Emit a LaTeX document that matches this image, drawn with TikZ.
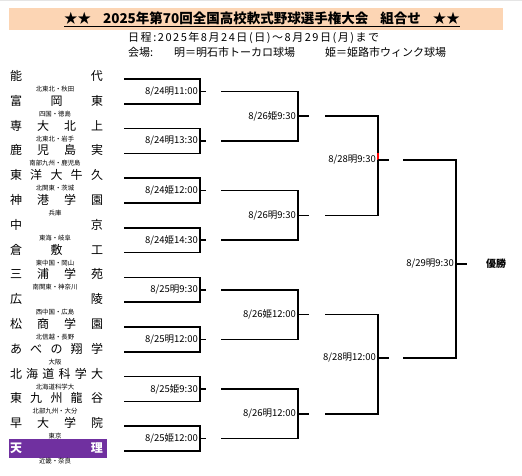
\documentclass[tikz,border=0pt]{standalone}
\usepackage{fontspec}
\setmainfont{Noto Sans CJK JP}
\usepackage{xcolor}
\usetikzlibrary{positioning}
\definecolor{peach}{HTML}{FCD5B4}
\definecolor{tenri}{HTML}{7030A0}

\begin{document}
\begin{tikzpicture}[x=1pt, y=-1pt,
    bline/.style={line width=1.6pt},
    team/.style={inner sep=0pt, font=\fontsize{12}{12}\selectfont},
    area/.style={inner sep=0pt, font=\fontsize{6.4}{6.4}\selectfont},
    game/.style={inner sep=0pt, anchor=east, font=\fontsize{9.5}{9.5}\selectfont},
    info/.style={inner sep=0pt, anchor=west, font=\fontsize{11}{11}\selectfont}]
        \useasboundingbox (0,0) rectangle (522,476);

        % Header
        \fill[gray!20] (0,0) rectangle (522,1.5);
        \fill[peach] (9,8) rectangle (503,30);
        \node[inner sep=0pt, font=\bfseries\fontsize{13.5}{13.5}\selectfont] (title) at (262,19)
            {\underline{★★\hspace{12pt}2025年第70回全国高校軟式野球選手権大会\hspace{12pt}組合せ\hspace{12pt}★★}};
        \node[info] (dates) at (128,38) {\addfontfeature{LetterSpace=14}日程:2025年8月24日(日)～8月29日(月)まで};
        \node[info] (venue) at (128,52) {会場:};
        \node[info] (akashi) at (174,52) {明＝明石市トーカロ球場};
        \node[info] (himeji) at (325,52) {姫＝姫路市ウィンク球場};

        % Teams
        \fill[tenri] (9,439) rectangle (107,458);
        \foreach \nm/\ar [count=\i from 0] in {
            {能\hfill 代}/北東北・秋田,
            {富\hfill 岡\hfill 東}/四国・徳島,
            {専\hfill 大\hfill 北\hfill 上}/北東北・岩手,
            {鹿\hfill 児\hfill 島\hfill 実}/南部九州・鹿児島,
            {東\hfill 洋\hfill 大\hfill 牛\hfill 久}/北関東・茨城,
            {神\hfill 港\hfill 学\hfill 園}/兵庫,
            {中\hfill 京}/東海・岐阜,
            {倉\hfill 敷\hfill 工}/東中国・岡山,
            {三\hfill 浦\hfill 学\hfill 苑}/南関東・神奈川,
            {広\hfill 陵}/西中国・広島,
            {松\hfill 商\hfill 学\hfill 園}/北信越・長野,
            {あ\hfill べ\hfill の\hfill 翔\hfill 学}/大阪,
            {北\hfill 海\hfill 道\hfill 科\hfill 学\hfill 大}/北海道科学大,
            {東\hfill 九\hfill 州\hfill 龍\hfill 谷}/北部九州・大分,
            {早\hfill 大\hfill 学\hfill 院}/東京,
            {\textcolor{white}{\bfseries 天\hfill 理}}/近畿・奈良} {
            \pgfmathsetmacro\y{79+24.8*\i}
            \node[team] (t\i) at (56.5,\y-3) {\makebox[93pt][s]{\nm}};
            \node[area] (a\i) at (55,\y+10) {\ar};
            \coordinate (tl\i) at (124,\y);
            \coordinate (tr\i) at (200,\y);
        }

        % First round
        \foreach \lab [count=\m from 0] in {8/24明11:00, 8/24明13:30, 8/24姫12:00, 8/24姫14:30,
                8/25明9:30, 8/25明12:00, 8/25姫9:30, 8/25姫12:00} {
            \pgfmathtruncatemacro\a{2*\m}
            \pgfmathtruncatemacro\b{2*\m+1}
            \pgfmathsetmacro\ym{91.4+49.6*\m}
            \node[game] (g\m) at (198,\ym) {\lab};
            \coordinate (gs\m) at (200,\ym);
            \coordinate (ql\m) at (221,\ym);
            \coordinate (qr\m) at (298,\ym);
            \draw[bline] (tl\a) -- (tr\a) -- (tr\b) -- (tl\b);
            \draw[bline] (gs\m) -- ++(6,0);
        }

        % Second round
        \foreach \lab [count=\q from 0] in {8/26姫9:30, 8/26明9:30, 8/26姫12:00, 8/26明12:00} {
            \pgfmathtruncatemacro\a{2*\q}
            \pgfmathtruncatemacro\b{2*\q+1}
            \pgfmathsetmacro\ym{116.2+99.2*\q}
            \node[game] (k\q) at (296,\ym) {\lab};
            \coordinate (ks\q) at (298,\ym);
            \coordinate (sl\q) at (325,\ym);
            \coordinate (sr\q) at (378,\ym);
            \draw[bline] (ql\a) -- (qr\a) -- (qr\b) -- (ql\b);
            \draw[bline] (ks\q) -- ++(11,0);
        }

        % Semi finals
        \coordinate (ss0) at (378,160);
        \coordinate (ss1) at (378,358);
        \node[game] (s0) at (376,160) {8/28明9:30};
        \node[game] (s1) at (376,358) {8/28明12:00};
        \draw[bline] (sl0) -- (sr0) -- (sr1) -- (sl1);
        \draw[bline] (sl2) -- (sr2) -- (sr3) -- (sl3);
        \draw[red, line width=1.6pt] (378,153) -- (ss0);
        \draw[bline] (ss0) -- ++(11,0);
        \draw[bline] (ss1) -- ++(11,0);

        % Final
        \coordinate (fl0) at (403,160);
        \coordinate (fr0) at (456,160);
        \coordinate (fl1) at (403,358);
        \coordinate (fr1) at (456,358);
        \coordinate (fs) at (456,264);
        \node[game] (fin) at (454,264) {8/29明9:30};
        \node[inner sep=0pt, font=\bfseries\fontsize{10}{10}\selectfont] (champ) at (496,264) {優勝};
        \draw[bline] (fl0) -- (fr0) -- (fr1) -- (fl1);
        \draw[bline] (fs) -- ++(11,0);
    \end{tikzpicture}
\end{document}
